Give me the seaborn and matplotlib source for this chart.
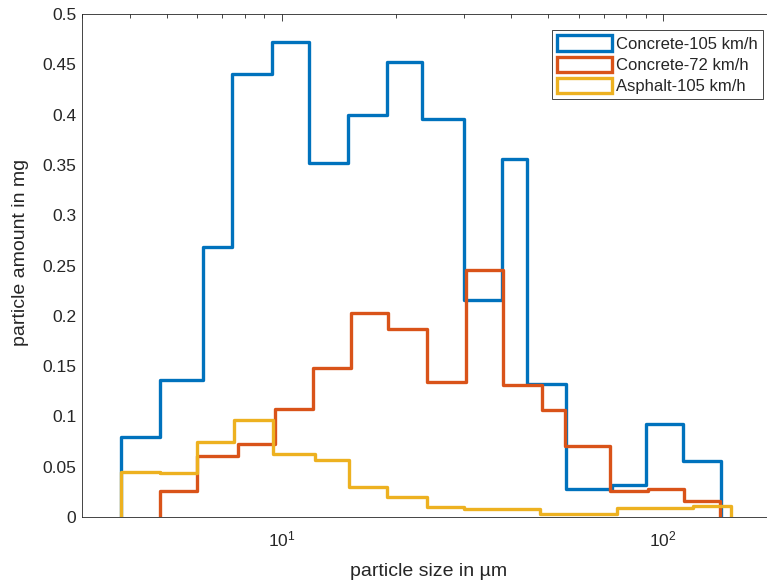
import matplotlib
matplotlib.use("Agg")
import matplotlib.pyplot as plt
import numpy as np
import seaborn as sns
from matplotlib.patches import Patch
from matplotlib.ticker import FuncFormatter, LogLocator


# bin edges (um) and particle amount (mg)
concrete105_edges = [3.80, 4.81, 6.22, 7.41, 9.43, 11.83, 14.97, 18.87, 23.38,
                     30.08, 37.88, 44.05, 55.54, 73.30, 90.15, 112.9, 141.7]
concrete105_mg = [0.080, 0.136, 0.268, 0.440, 0.472, 0.352, 0.400, 0.452,
                  0.396, 0.216, 0.356, 0.132, 0.028, 0.032, 0.092, 0.056]

concrete72_edges = [4.81, 6.00, 7.71, 9.62, 12.12, 15.18, 19.05, 24.09,
                    30.38, 38.11, 48.05, 55.31, 72.55, 91.4, 113.4, 140.9]
concrete72_mg = [0.026, 0.061, 0.073, 0.107, 0.148, 0.203, 0.187, 0.134,
                 0.246, 0.131, 0.106, 0.071, 0.026, 0.028, 0.016]

asphalt105_edges = [3.80, 4.81, 6.00, 7.51, 9.48, 12.24, 15.05, 18.93,
                    24.01, 30.08, 47.56, 75.82, 119.9, 150.5]
asphalt105_mg = [0.045, 0.044, 0.075, 0.096, 0.063, 0.057, 0.030, 0.020,
                 0.010, 0.008, 0.003, 0.0085, 0.011]

labels = ["Concrete-105 km/h", "Concrete-72 km/h", "Asphalt-105 km/h"]
colors = ["#0072BD", "#D95319", "#EDB120"]


def stairs_xy(edges, values):
    """Punti per una linea a gradini che parte e finisce a zero."""
    edges = np.asarray(edges, dtype=float)
    values = np.asarray(values, dtype=float)
    xs = np.concatenate([[edges[0]], edges, [edges[-1]]])
    ys = np.concatenate([[0.0], values, [values[-1], 0.0]])
    return xs, ys


sns.set_style("white")
plt.rcParams["font.family"] = ["Liberation Sans", "DejaVu Sans"]
plt.rcParams["mathtext.fontset"] = "custom"
plt.rcParams["mathtext.rm"] = "Liberation Sans"

fig = plt.figure(figsize=(7.67, 5.80), dpi=100)
ax = fig.add_axes([82 / 767, 63 / 580, 685 / 767, 503 / 580])
ax.set_xscale("log")

series = [
    (concrete105_edges, concrete105_mg),
    (concrete72_edges, concrete72_mg),
    (asphalt105_edges, asphalt105_mg),
]
for (edges, mg), color in zip(series, colors):
    xs, ys = stairs_xy(edges, mg)
    sns.lineplot(x=xs, y=ys, sort=False, estimator=None, drawstyle="steps-post",
                 color=color, linewidth=2.4, ax=ax)

ax.set_xlim(3, 187)
ax.set_ylim(0, 0.5)
ax.set_yticks(np.arange(0, 0.501, 0.05))
ax.yaxis.set_major_formatter(FuncFormatter(lambda v, _: f"{v:g}"))
ax.xaxis.set_major_locator(LogLocator(base=10))
ax.xaxis.set_minor_locator(LogLocator(base=10, subs=np.arange(2, 10)))

ax.tick_params(axis="both", which="both", direction="in", top=True,
               right=False, colors="#262626", labelsize=12.5, width=0.6)
ax.tick_params(axis="both", which="major", length=5)
ax.tick_params(axis="x", which="minor", length=3)
ax.tick_params(axis="x", which="major", pad=9)
ax.tick_params(axis="y", which="major", pad=4)
for side in ["left", "bottom", "top"]:
    ax.spines[side].set_color("#262626")
    ax.spines[side].set_linewidth(0.6)
ax.spines["right"].set_visible(False)

ax.set_xlabel("particle size in µm", fontsize=14, color="#262626")
ax.set_ylabel("particle amount in mg", fontsize=14, color="#262626")
ax.xaxis.set_label_coords(0.5066, -0.0915)
ax.yaxis.set_label_coords(-0.0774, 0.525)

handles = [Patch(facecolor="white", edgecolor=c, linewidth=2.4) for c in colors]
leg = ax.legend(handles, labels, loc="upper right", bbox_to_anchor=(0.994, 0.968),
                borderaxespad=0, fontsize=12, handlelength=3.3, handleheight=1.05,
                handletextpad=0.25, labelspacing=0.3, borderpad=0.3,
                fancybox=False, framealpha=1)
leg.get_frame().set_edgecolor("#262626")
leg.get_frame().set_linewidth(0.6)

fig.savefig("out.png", dpi=100)
